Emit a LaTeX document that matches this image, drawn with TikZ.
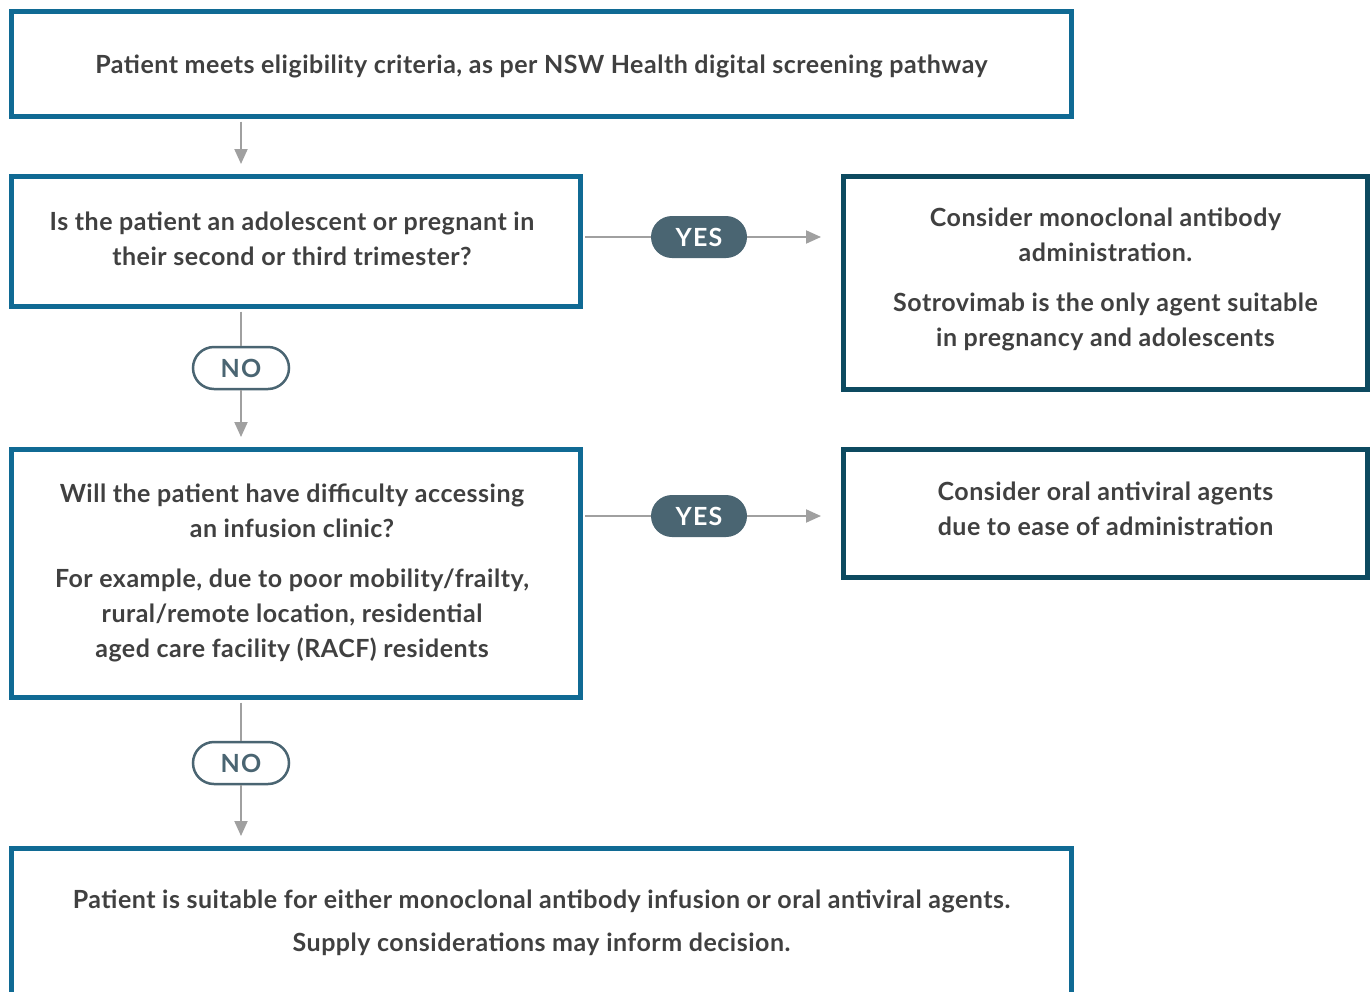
\documentclass[tikz,border=0pt]{standalone}
\usepackage{fontspec}
\setmainfont{Lato}
\newfontfamily\spacedfont[LetterSpace=2]{Lato}
\newfontfamily\pillfont[LetterSpace=5]{Lato}
\usetikzlibrary{arrows.meta}
\definecolor{boxblue}{RGB}{16,106,148}
\definecolor{boxdark}{RGB}{13,74,96}
\definecolor{pillgrey}{RGB}{74,101,114}
\definecolor{txt}{RGB}{64,64,64}
\definecolor{conn}{RGB}{160,160,160}
\begin{document}
\begin{tikzpicture}[x=0.5pt,y=-0.5pt,
  box/.style={draw=boxblue, line width=2.5pt, fill=white, inner sep=0pt},
  darkbox/.style={box, draw=boxdark},
  boxtext/.style={align=center, text=txt, inner sep=0pt,
    font=\spacedfont\bfseries\fontsize{12.5}{17.5}\selectfont},
  arr/.style={draw=conn, line width=1pt, -{Triangle[length=7.5pt,width=6.5pt]}},
  plain/.style={draw=conn, line width=1pt},
  pillbase/.style={rounded corners=10.5pt, minimum width=48pt, minimum height=21pt,
    inner sep=0pt, font=\pillfont\bfseries\fontsize{12.5}{14}\selectfont},
  yespill/.style={pillbase, fill=pillgrey, text=white},
  nopill/.style={pillbase, draw=pillgrey, line width=1.25pt, fill=white, text=pillgrey}
]
\clip (0,0) rectangle (1370,991);
\fill[white] (0,0) rectangle (1370,991);

% column of the vertical connectors
\coordinate (col) at (241,0);

% frames
\node[box, minimum width=530pt, minimum height=52.5pt] (b1) at (541.5,64) {};
\node[box, minimum width=284.5pt, minimum height=65pt] (b2) at (296,241.5) {};
\node[darkbox, minimum width=262pt, minimum height=106.5pt] (r1) at (1105.5,283) {};
\node[box, minimum width=284.5pt, minimum height=124pt] (b3) at (296,573.5) {};
\node[darkbox, minimum width=262pt, minimum height=64pt] (r2) at (1105.5,513.5) {};
\node[box, minimum width=530pt, minimum height=74pt] (b4) at (541.5,922.5) {};

% texts inside the frames
\node[boxtext] (t1) at ([yshift=-1pt]b1.center)
  {Patient meets eligibility criteria, as per NSW Health digital screening pathway};
\node[boxtext] (t2) at ([xshift=-2pt,yshift=1.5pt]b2.center)
  {Is the patient an adolescent or pregnant in\\their second or third trimester?};
\node[boxtext] (tr1) at ([yshift=1.75pt]r1.center)
  {Consider monoclonal antibody\\administration.\\[7.5pt]Sotrovimab is the only agent suitable\\in pregnancy and adolescents};
\node[boxtext] (t3) at ([xshift=-2pt,yshift=0.5pt]b3.center)
  {Will the patient have difficulty accessing\\an infusion clinic?\\[7.5pt]For example, due to poor mobility/frailty,\\rural/remote location, residential\\aged care facility (RACF) residents};
\node[boxtext] (tr2) at ([yshift=2.5pt]r2.center)
  {Consider oral antiviral agents\\due to ease of administration};
\node[boxtext] (t4) at (b4.center)
  {Patient is suitable for either monoclonal antibody infusion or oral antiviral agents.\\[4pt]Supply considerations may inform decision.};

% decision labels
\node[yespill] (y1) at (699,237) {YES};
\node[yespill] (y2) at (699,516) {YES};
\node[nopill] (n1) at (241,368) {NO};
\node[nopill] (n2) at (241,763) {NO};

% connectors
\draw[arr, shorten <=1.25pt, shorten >=5pt] (b1.south -| col) -- (b2.north -| col);
\draw[plain, shorten <=1.25pt] (b2.south -| col) -- (n1.north);
\draw[arr, shorten >=5pt] (n1.south) -- (b3.north -| col);
\draw[plain, shorten <=1.25pt] (b3.south -| col) -- (n2.north);
\draw[arr, shorten >=5pt] (n2.south) -- (b4.north -| col);
\draw[plain, shorten <=1pt] (b2.east |- y1) -- (y1.west);
\draw[arr, shorten >=10pt] (y1.east) -- (r1.west |- y1);
\draw[plain, shorten <=1pt] (b3.east |- y2) -- (y2.west);
\draw[arr, shorten >=10pt] (y2.east) -- (r2.west |- y2);
\end{tikzpicture}
\end{document}
